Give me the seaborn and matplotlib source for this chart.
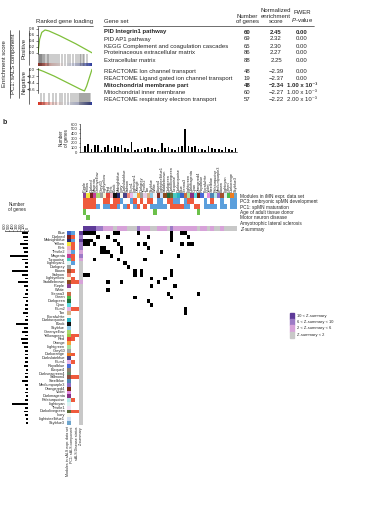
import numpy as np
import seaborn as sns
import matplotlib.pyplot as plt
from matplotlib.colors import ListedColormap, LinearSegmentedColormap

# === Data: GSEA table ===
gene_sets = ["PID Integrin1 pathway", "PID AP1 pathway", "KEGG Complement and coagulation cascades",
             "Proteinaceous extracellular matrix", "Extracellular matrix",
             "REACTOME Ion channel transport", "REACTOME Ligand gated ion channel transport",
             "Mitochondrial membrane part", "Mitochondrial inner membrane",
             "REACTOME respiratory electron transport"]
n_genes = [60, 69, 65, 86, 88, 48, 19, 48, 60, 57]
nes = [2.45, 2.32, 2.30, 2.27, 2.25, -2.39, -2.37, -2.34, -2.27, -2.22]
fwer = ["0.00", "0.00", "0.00", "0.00", "0.00", "0.00", "0.00",
        "1.00 x 10\u207b\u00b3", "1.00 x 10\u207b\u00b3", "2.00 x 10\u207b\u00b3"]
bold_rows = [0, 7]

# running enrichment score curves
pos_x = [0, 0.03, 0.07, 0.13, 0.2, 0.3, 0.4, 0.5, 0.6, 0.7, 0.8, 0.9, 1.0]
pos_es = [0, 0.45, 0.68, 0.76, 0.73, 0.65, 0.57, 0.48, 0.39, 0.30, 0.20, 0.10, 0.0]
neg_x = [0, 0.1, 0.2, 0.3, 0.4, 0.5, 0.6, 0.7, 0.8, 0.86, 0.9, 0.95, 1.0]
neg_es = [0, -0.06, -0.13, -0.2, -0.28, -0.36, -0.44, -0.52, -0.6, -0.64, -0.5, -0.25, 0]
pos_hits = [0.01, 0.02, 0.03, 0.05, 0.06, 0.08, 0.09, 0.11, 0.13, 0.16, 0.18, 0.21, 0.24, 0.27,
            0.31, 0.35, 0.39, 0.44, 0.5, 0.55, 0.6, 0.64, 0.7, 0.74, 0.77, 0.8, 0.83, 0.86, 0.9]
neg_hits = [0.05, 0.12, 0.2, 0.27, 0.33, 0.4, 0.45, 0.5, 0.56, 0.61, 0.65, 0.69, 0.72, 0.75,
            0.77, 0.79, 0.81, 0.83, 0.85, 0.87, 0.89, 0.91, 0.93, 0.95, 0.97]

# === Data: module preservation panel ===
top_modules = ["Purple", "Yellow", "Darkred", "Magenta", "Greenyellow", "Grey60", "Lightyellow", "Red",
               "Pink", "Black", "Midnightblue", "Ivory", "Darkslateblue", "Salmon", "Plum1", "Lightcyan1",
               "Orange", "Darkgrey", "Thistle2", "Tan", "Skyblue", "White", "Brown4", "Lightsteelblue1",
               "Saddlebrown", "Darkgreen", "Darkolivegreen", "Turquoise", "Darkturquoise", "Blue",
               "Sienna3", "Lightgreen", "Darkmagenta", "Cyan", "Orangered4", "Royalblue", "Floralwhite",
               "Violet", "Steelblue", "Paleturquoise", "Mediumpurple3", "Brown", "Lightcyan", "Green",
               "Darkorange", "Skyblue3"]
top_ngenes = [120, 170, 60, 140, 150, 40, 110, 150, 90, 130, 100, 140, 90, 60, 210, 40,
              60, 70, 80, 110, 90, 60, 50, 195, 80, 100, 60, 50, 100, 120, 490, 130,
              100, 120, 70, 60, 50, 120, 80, 60, 70, 40, 100, 60, 50, 80]
top_pc3 = [1, 1, 1, 1, 0, 0, 1, 1, 0, 1, 1, -1, 0, 0, -1, 1, 0, 1, 0, 1, 1, 0, -1,
           -1, 0, 1, 1, -1, -1, 0, -1, 1, 1, 0, 0, 0, -1, 0, 1, 0, 0, -1, 0, 0, -1, -1]
top_pc1 = [1, 1, 1, 1, -1, 0, -1, -1, 1, 1, -1, 0, -1, 1, 0, -1, 1, 0, 1, 0, -1, -1, -1,
           -1, -1, 0, 1, 1, 1, 1, -1, -1, 0, 1, 1, 0, -1, -1, -1, -1, 0, -1, -1, 0, -1, -1]
top_age = [0, 21, 34]
top_mnd = [1]
top_als = []
top_z = [3, 3, 3, 3, 2, 2, 1, 1, 1, 0, 1, 1, 1, 0, 0, 0, 2, 1, 1, 1, 0, 0, 1,
         1, 1, 0, 2, 1, 1, 1, 1, 1, 1, 1, 0, 1, 1, 0, 1, 0, 0, 1, 0, 0, 0, 0]

row_modules = ["Blue", "Darkred", "Midnightblue", "Yellow", "Pink", "Thistle2", "Magenta", "Turquoise",
               "Lightcyan1", "Darkgrey", "Brown", "Salmon", "Lightyellow", "Saddlebrown", "Purple",
               "White", "Sienna3", "Green", "Darkgreen", "Cyan", "Plum2", "Tan", "Floralwhite",
               "Darkturquoise", "Black", "Skyblue", "Greenyellow", "Yellowgreen", "Red", "Orange",
               "Lightgreen", "Grey60", "Darkorange", "Darkslateblue", "Plum1", "Royalblue", "Bisque4",
               "Darkseagreen4", "Salmon4", "Steelblue", "Mediumpurple3", "Orangered4", "Violet",
               "Darkmagenta", "Paleturquoise", "Lightcyan", "Thistle1", "Darkolivegreen", "Ivory",
               "Lightsteelblue1", "Skyblue3"]
row_ngenes = [150, 120, 110, 200, 130, 100, 480, 160, 90, 70, 420, 150, 80, 250, 110, 60, 90,
              140, 60, 90, 70, 120, 60, 80, 320, 100, 150, 90, 190, 150, 110, 90, 80, 70, 80,
              110, 60, 70, 90, 150, 70, 60, 80, 60, 90, 420, 70, 100, 80, 60, 50]
row_pc1 = [-1, 1, -1, 1, 1, -1, 1, 1, -1, 0, 1, 0, 1, 1, 0, 0, 0, 0, 0, 0, 1, 0, 0, 0, 0, 0,
           0, 1, 1, 0, 0, 0, 1, 0, 1, 0, 0, 0, 1, 0, 0, 0, 0, 0, 1, 0, 0, 1, 0, 0, 0]
row_status = [0, 0, 0, 0, 0, 0, 0, 0, 0, 0, 0, 0, 0, 1, 0, 0, 0, 0, 0, 0, 1, 0, 0, 0, 0, 0,
              0, 1, 0, 0, 0, 0, 0, 0, 0, 0, 0, 0, 1, 0, 0, 0, 0, 0, 0, 0, 0, 1, 0, 0, 0]
row_z = [3, 2, 3, 2, 2, 1, 2, 1, 0, 0, 0, 0, 0, 1, 0, 0, 0, 0, 0, 0, 0, 0, 0, 0, 0, 0,
         0, 0, 0, 0, 0, 0, 0, 0, 0, 0, 0, 0, 0, 0, 0, 0, 0, 0, 0, 0, 0, 0, 0, 0, 0]

# significant overlaps (row, column)
overlap_cells = [(0, 0), (0, 1), (0, 2), (0, 3), (0, 9), (0, 10), (0, 16), (0, 26), (0, 29), (0, 30),
                 (1, 4), (1, 7), (1, 19), (1, 26), (1, 31), (2, 0), (2, 1), (2, 2), (2, 9), (2, 26),
                 (3, 0), (3, 1), (3, 3), (3, 10), (3, 16), (3, 18), (3, 29), (3, 31), (3, 32),
                 (4, 5), (4, 6), (4, 11), (4, 19), (5, 5), (5, 6), (5, 7), (5, 11), (5, 23),
                 (6, 8), (6, 28), (7, 3), (7, 10), (7, 18), (8, 12), (9, 13), (10, 15), (11, 15),
                 (10, 17), (11, 17), (10, 26), (11, 26), (11, 0), (11, 1), (12, 20), (12, 24),
                 (13, 7), (13, 11), (13, 22), (14, 20), (14, 27), (15, 7), (16, 25), (16, 34),
                 (17, 15), (17, 26), (18, 19), (19, 20), (20, 30), (21, 30)]

module_hex = {
    "Purple": "#8a3f95", "Yellow": "#f2e43a", "Darkred": "#7a1f1f", "Magenta": "#c4409a",
    "Greenyellow": "#a9d86e", "Grey60": "#a0a0a0", "Lightyellow": "#f7f4d8", "Red": "#e8443a",
    "Pink": "#f2b5c8", "Black": "#111111", "Midnightblue": "#26276e", "Ivory": "#f8f8ee",
    "Darkslateblue": "#4a4287", "Salmon": "#f08a7a", "Plum1": "#e9b8e9", "Lightcyan1": "#dff4f4",
    "Orange": "#f4a23a", "Darkgrey": "#9e9e9e", "Thistle2": "#e6cde6", "Tan": "#d2b48c",
    "Skyblue": "#8fcbe8", "White": "#f4f4f4", "Brown4": "#7e2b26", "Lightsteelblue1": "#cfdff5",
    "Saddlebrown": "#8b4a1f", "Darkgreen": "#1f6b3a", "Darkolivegreen": "#5a6b3a",
    "Turquoise": "#4cc9c0", "Darkturquoise": "#2ab3c4", "Blue": "#3c64c8", "Sienna3": "#c96c45",
    "Lightgreen": "#a5e0a0", "Darkmagenta": "#862f86", "Cyan": "#5ad8e0", "Orangered4": "#7d2a14",
    "Royalblue": "#4a6bd8", "Floralwhite": "#fbf7ee", "Violet": "#e08be0", "Steelblue": "#4d86b4",
    "Paleturquoise": "#b5e8e8", "Mediumpurple3": "#8a6cc8", "Brown": "#a5502e", "Lightcyan": "#d9f2f2",
    "Green": "#4cb84c", "Darkorange": "#ef7d1f", "Skyblue3": "#6fa6cc", "Plum2": "#e5b5e5",
    "Yellowgreen": "#9cc84a", "Bisque4": "#8a7d6b", "Darkseagreen4": "#6a8b6a", "Salmon4": "#8b4c3f",
    "Thistle1": "#f2dff2",
}

# === Style ===
sns.set_theme(style="white")
plt.rcParams['font.family'] = ['Liberation Sans', 'DejaVu Sans']
plt.rcParams['mathtext.fontset'] = 'custom'
plt.rcParams['mathtext.rm'] = 'Liberation Sans'
plt.rcParams['mathtext.it'] = 'Liberation Sans:italic'
plt.rcParams['mathtext.bf'] = 'Liberation Sans:bold'
RED, BLUE, GREEN = "#ef5a3c", "#5b9fdc", "#6cc04a"
Z_COLORS = ["#c8c8c8", "#d7a2d9", "#9d7ac6", "#5e3a98"]
CURVE = "#7fbf3a"

W, H = 383, 508
fig = plt.figure(figsize=(W / 100, H / 100), dpi=100)


def px_axes(x0, y0, x1, y1):
    return fig.add_axes([x0 / W, 1 - y1 / H, (x1 - x0) / W, (y1 - y0) / H])


def px_text(x, y, s, **kw):
    fig.text(x / W, 1 - y / H, s, **kw)


def px_line(x0, y0, x1, y1):
    fig.add_artist(plt.Line2D([x0 / W, x1 / W], [1 - y0 / H, 1 - y1 / H], color="black", lw=0.4))


# === a: GSEA ===
rwb = LinearSegmentedColormap.from_list("rwb", ["#d7301f", "#f6d0cb", "white", "#c9cdea", "#2b3a9a"])
gradient = np.linspace(0, 1, 256)[None, :]


def gsea(y_top, y_mid, y_bot, xs, es, hits, ylim, ticks, labels):
    ax = px_axes(38, y_top, 92, y_mid)
    sns.lineplot(x=xs, y=es, ax=ax, color=CURVE, linewidth=0.9)
    ax.set_xlim(0, 1)
    ax.set_ylim(ylim)
    ax.set_yticks(ticks)
    ax.set_yticklabels(labels, fontsize=3.2)
    ax.set_xticks([])
    for s in ["top", "right", "bottom"]:
        ax.spines[s].set_visible(False)
    ax.spines["left"].set_linewidth(0.4)
    ax.spines["left"].set_color("black")
    ax.tick_params(axis="y", length=1.2, width=0.4, pad=0.8, left=True)
    axb = px_axes(38, y_mid, 92, y_bot)
    axb.imshow(gradient, aspect="auto", cmap=rwb, extent=[0, 1, 0, 0.22])
    axb.vlines(hits, 0, 1, color="#333333", lw=0.35)
    axb.set_xlim(0, 1)
    axb.set_ylim(0, 1)
    axb.axis("off")


gsea(27, 54, 66, pos_x, pos_es, pos_hits, (-0.04, 0.86), [0, 0.2, 0.4, 0.6, 0.8],
     ["0.0", "0.2", "0.4", "0.6", "0.8"])
gsea(68, 93, 105, neg_x, neg_es, neg_hits, (-0.7, 0.04), [0, -0.2, -0.4, -0.6],
     ["0.0", "\u22120.2", "\u22120.4", "\u22120.6"])

fs = 4.3
px_text(65, 24, "Ranked gene loading", fontsize=fs, ha="center", va="bottom")
px_text(104, 24, "Gene set", fontsize=fs, ha="left", va="bottom")
px_text(247, 24, "Number\nof genes", fontsize=fs, ha="center", va="bottom", linespacing=1.1)
px_text(276, 24, "Normalized\nenrichment\nscore", fontsize=fs, ha="center", va="bottom", linespacing=1.1)
px_text(302, 24, "FWER\n$P$-value", fontsize=fs, ha="center", va="bottom", linespacing=1.1)
px_line(37, 26, 93, 26)
px_line(103, 26, 314, 26)

for i, name in enumerate(gene_sets):
    y = 32 + 7 * i + (4.5 if i >= 5 else 0)
    w = "bold" if i in bold_rows else "normal"
    px_text(104, y, name, fontsize=fs, ha="left", va="center", weight=w)
    px_text(247, y, str(n_genes[i]), fontsize=fs, ha="center", va="center", weight=w)
    px_text(276, y, f"{nes[i]:.2f}".replace("-", "\u2212"), fontsize=fs, ha="center", va="center", weight=w)
    px_text(302, y, fwer[i], fontsize=fs, ha="center", va="center", weight=w)

px_text(5, 64, "Enrichment score", fontsize=fs, rotation=90, ha="center", va="center")
px_text(14, 64, "PC1: sALS component", fontsize=fs, rotation=90, ha="center", va="center")
px_text(24, 48, "Positive", fontsize=fs, rotation=90, ha="center", va="center")
px_text(24, 82, "Negative", fontsize=fs, rotation=90, ha="center", va="center")
px_line(9.5, 30, 9.5, 98)
px_line(19, 30, 19, 98)
px_line(28.5, 30, 28.5, 65)
px_line(28.5, 68, 28.5, 104)

px_text(3, 122, "b", fontsize=5, weight="bold", ha="left", va="center")

# === b: module overlap ===
n_top, n_row = len(top_modules), len(row_modules)
MX0, CW = 83, 3.35
MY0, RH = 231, 3.8
MX1, MY1 = MX0 + CW * n_top, MY0 + RH * n_row

# top bar chart
axt = px_axes(MX0 - CW, 124, MX1, 152)
sns.barplot(x=top_modules, y=top_ngenes, ax=axt, color="black", width=0.5, saturation=1, linewidth=0)
axt.set_xlim(-1.5, n_top - 0.5)
axt.set_ylim(0, 600)
axt.set_yticks(range(0, 601, 100))
axt.tick_params(axis="y", labelsize=3, length=1, width=0.4, pad=0.6, left=True)
axt.set_xticks([])
axt.set_xlabel("")
axt.set_ylabel("Number\nof genes", fontsize=3.3, labelpad=1.5, linespacing=1)
for s in ["top", "right"]:
    axt.spines[s].set_visible(False)
for s in ["left", "bottom"]:
    axt.spines[s].set_linewidth(0.4)
    axt.spines[s].set_color("black")

# top annotation strip
WHITE_I, RED_I, BLUE_I, GREEN_I = n_top, n_top + 1, n_top + 2, n_top + 3
Z_I = n_top + 4


def rb(v):
    return RED_I if v > 0 else (BLUE_I if v < 0 else WHITE_I)


strip = np.full((7, n_top), WHITE_I)
strip[0] = np.arange(n_top)
strip[1] = [rb(v) for v in top_pc3]
strip[2] = [rb(v) for v in top_pc1]
strip[3, top_age] = GREEN_I
strip[4, top_mnd] = GREEN_I
strip[5, top_als] = GREEN_I
strip[6] = Z_I + np.array(top_z)
top_cmap = ListedColormap([module_hex[m] for m in top_modules] + ["white", RED, BLUE, GREEN] + Z_COLORS)
axs = px_axes(MX0, 193, MX1, MY0)
sns.heatmap(strip, ax=axs, cmap=top_cmap, vmin=-0.5, vmax=len(top_cmap.colors) - 0.5, cbar=False,
            xticklabels=top_modules,
            yticklabels=["Modules in iMN expr. data set", "PC3: embryonic spMN development",
                         "PC1: spMN maturation", "Age of adult tissue donor", "Motor neuron disease",
                         "Amyotrophic lateral sclerosis", "$Z$-summary"])
axs.xaxis.tick_top()
axs.yaxis.tick_right()
axs.tick_params(axis="x", labelsize=2.8, rotation=90, length=0, pad=1)
axs.tick_params(axis="y", labelsize=3.4, rotation=0, length=0, pad=2)

# overlap matrix
mat = np.zeros((n_row, n_top))
for r, c in overlap_cells:
    mat[r, c] = 1
axm = px_axes(MX0, MY0, MX1, MY1)
sns.heatmap(mat, ax=axm, cmap=ListedColormap(["white", "black"]), vmin=0, vmax=1, cbar=False,
            xticklabels=False, yticklabels=False)

# left annotation strip
left = np.full((n_row, 4), WHITE_I)
left[:, 0] = [top_modules.index(m) if m in top_modules else WHITE_I for m in row_modules]
left[:, 1] = [rb(v) for v in row_pc1]
left[:, 2] = [RED_I if v else WHITE_I for v in row_status]
left[:, 3] = Z_I + np.array(row_z)
row_cols = [module_hex[m] for m in top_modules] + ["white", RED, BLUE, GREEN] + Z_COLORS
extra = [m for m in row_modules if m not in top_modules]
for m in extra:
    row_cols.append(module_hex[m])
for i, m in enumerate(row_modules):
    if m in extra:
        left[i, 0] = len(top_modules) + 8 + extra.index(m)
left_cmap = ListedColormap(row_cols)
axl = px_axes(MX0 - 16.5, MY0, MX0 - 0.5, MY1)
sns.heatmap(left, ax=axl, cmap=left_cmap, vmin=-0.5, vmax=len(row_cols) - 0.5, cbar=False,
            yticklabels=row_modules,
            xticklabels=["Modules in sALS expr. data set", "PC1: sALS component",
                         "sALS Disease status", "Z-summary"])
axl.tick_params(axis="y", labelsize=2.8, rotation=0, length=0, pad=1)
axl.tick_params(axis="x", labelsize=2.6, rotation=90, length=0, pad=1)

# left bar chart
axb = px_axes(5, MY0, 28, MY1)
sns.barplot(x=row_ngenes, y=row_modules, ax=axb, color="black", width=0.5, orient="h",
            saturation=1, linewidth=0)
axb.set_xlim(600, 0)
axb.set_xticks(range(0, 601, 100))
axb.xaxis.tick_top()
axb.tick_params(axis="x", labelsize=2.8, rotation=90, length=1, width=0.4, pad=0.5, top=True)
axb.set_yticks([])
axb.set_xlabel("")
axb.set_ylabel("")
for s in ["bottom", "left", "right"]:
    axb.spines[s].set_visible(False)
axb.spines["top"].set_linewidth(0.4)
axb.spines["top"].set_color("black")
px_text(17, 212, "Number\nof genes", fontsize=3.3, ha="center", va="bottom", linespacing=1)

# legend
leg_labels = ["10 < Z-summary", "6 < Z-summary < 10", "2 < Z-summary < 6", "Z-summary < 2"]
for i, lab in enumerate(leg_labels):
    y = 313 + 6.2 * i
    fig.add_artist(plt.Rectangle((290 / W, 1 - (y + 6.2) / H), 4 / W, 6.2 / H,
                                 color=Z_COLORS[3 - i], transform=fig.transFigure))
    px_text(297, y + 3.1, lab, fontsize=2.9, ha="left", va="center")

fig.savefig("out.png", dpi=100)
